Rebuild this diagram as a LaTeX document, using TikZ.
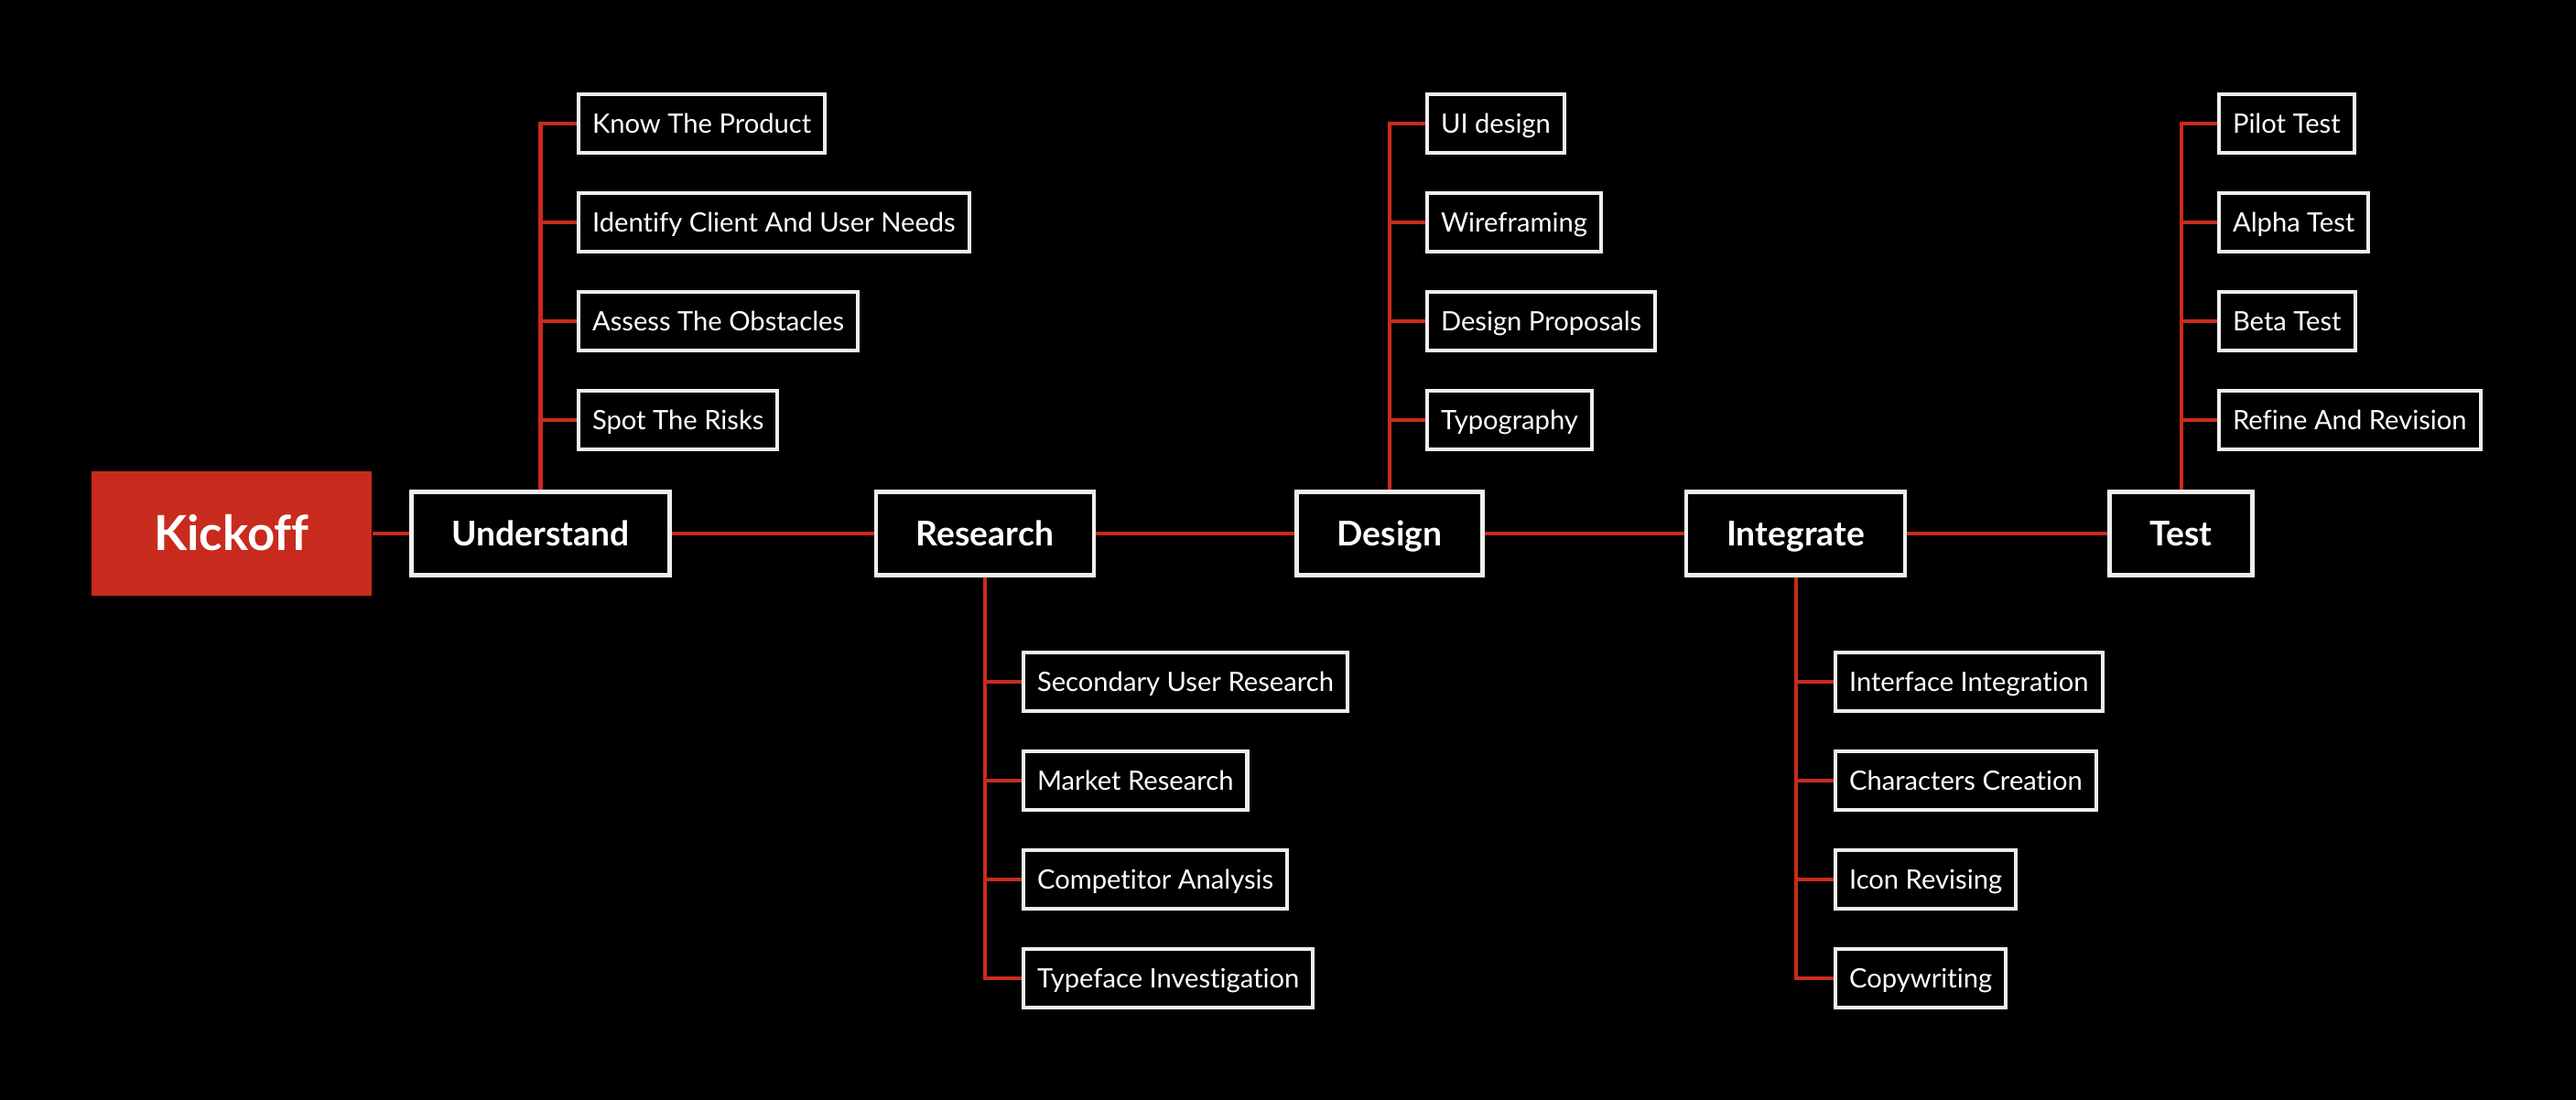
\documentclass[tikz,border=0pt]{standalone}
\usepackage{fontspec}
\setmainfont[Ligatures=NoCommon]{Lato}
\definecolor{kickred}{RGB}{200,43,29}
\definecolor{boxwhite}{RGB}{238,238,238}
\tikzset{
  phase/.style={draw=boxwhite,line width=1.3pt,fill=black,text=white,
    font=\bfseries\fontsize{10.6}{12}\selectfont,text height=7.6pt,text depth=0pt,
    minimum height=0.915cm,inner xsep=0.44cm},
  task/.style={draw=boxwhite,line width=1.15pt,fill=black,text=white,anchor=west,
    font=\fontsize{8.3}{10}\selectfont,text height=5.95pt,text depth=0pt,
    minimum height=0.635cm,inner xsep=0.15cm},
  link/.style={draw=kickred,line width=1.15pt}
}
\begin{document}
\begin{tikzpicture}
\fill[black] (0,0) rectangle (28.14,12.02);
\useasboundingbox (0,0) rectangle (28.14,12.02);
% phases
\node[fill=kickred,text=white,font=\bfseries\fontsize{15}{18}\selectfont,text height=10.75pt,text depth=0pt,
  minimum width=3.06cm,minimum height=1.36cm] (kickoff) at (2.53,6.19) {Kickoff};
\node[phase] (understand) at (5.905,6.19) {Understand};
\node[phase] (research) at (10.76,6.19) {Research};
\node[phase] (design) at (15.18,6.19) {Design};
\node[phase] (integrate) at (19.615,6.19) {Integrate};
\node[phase] (test) at (23.825,6.19) {Test};
\draw[link] (kickoff) -- (understand);
\draw[link] (understand) -- (research);
\draw[link] (research) -- (design);
\draw[link] (design) -- (integrate);
\draw[link] (integrate) -- (test);
% understand
\node[task] (know) at (6.30,10.67) {Know The Product};
\node[task] (identify) at (6.30,9.59) {Identify Client And User Needs};
\node[task] (assess) at (6.30,8.51) {Assess The Obstacles};
\node[task] (spot) at (6.30,7.43) {Spot The Risks};
\draw[link] (understand.north) |- (know.west);
\draw[link] (understand.north) |- (identify.west);
\draw[link] (understand.north) |- (assess.west);
\draw[link] (understand.north) |- (spot.west);
% research
\node[task] (secondary) at (11.16,4.57) {Secondary User Research};
\node[task] (market) at (11.16,3.49) {Market Research};
\node[task] (competitor) at (11.16,2.41) {Competitor Analysis};
\node[task] (typeface) at (11.16,1.33) {Typeface Investigation};
\draw[link] (research.south) |- (secondary.west);
\draw[link] (research.south) |- (market.west);
\draw[link] (research.south) |- (competitor.west);
\draw[link] (research.south) |- (typeface.west);
% design
\node[task] (ui) at (15.57,10.67) {UI design};
\node[task] (wire) at (15.57,9.59) {Wireframing};
\node[task] (proposals) at (15.57,8.51) {Design Proposals};
\node[task] (typo) at (15.57,7.43) {Typography};
\draw[link] (design.north) |- (ui.west);
\draw[link] (design.north) |- (wire.west);
\draw[link] (design.north) |- (proposals.west);
\draw[link] (design.north) |- (typo.west);
% integrate
\node[task] (interface) at (20.03,4.57) {Interface Integration};
\node[task] (characters) at (20.03,3.49) {Characters Creation};
\node[task] (icon) at (20.03,2.41) {Icon Revising};
\node[task] (copy) at (20.03,1.33) {Copywriting};
\draw[link] (integrate.south) |- (interface.west);
\draw[link] (integrate.south) |- (characters.west);
\draw[link] (integrate.south) |- (icon.west);
\draw[link] (integrate.south) |- (copy.west);
% test
\node[task] (pilot) at (24.22,10.67) {Pilot Test};
\node[task] (alpha) at (24.22,9.59) {Alpha Test};
\node[task] (beta) at (24.22,8.51) {Beta Test};
\node[task] (refine) at (24.22,7.43) {Refine And Revision};
\draw[link] (test.north) |- (pilot.west);
\draw[link] (test.north) |- (alpha.west);
\draw[link] (test.north) |- (beta.west);
\draw[link] (test.north) |- (refine.west);
\end{tikzpicture}
\end{document}
